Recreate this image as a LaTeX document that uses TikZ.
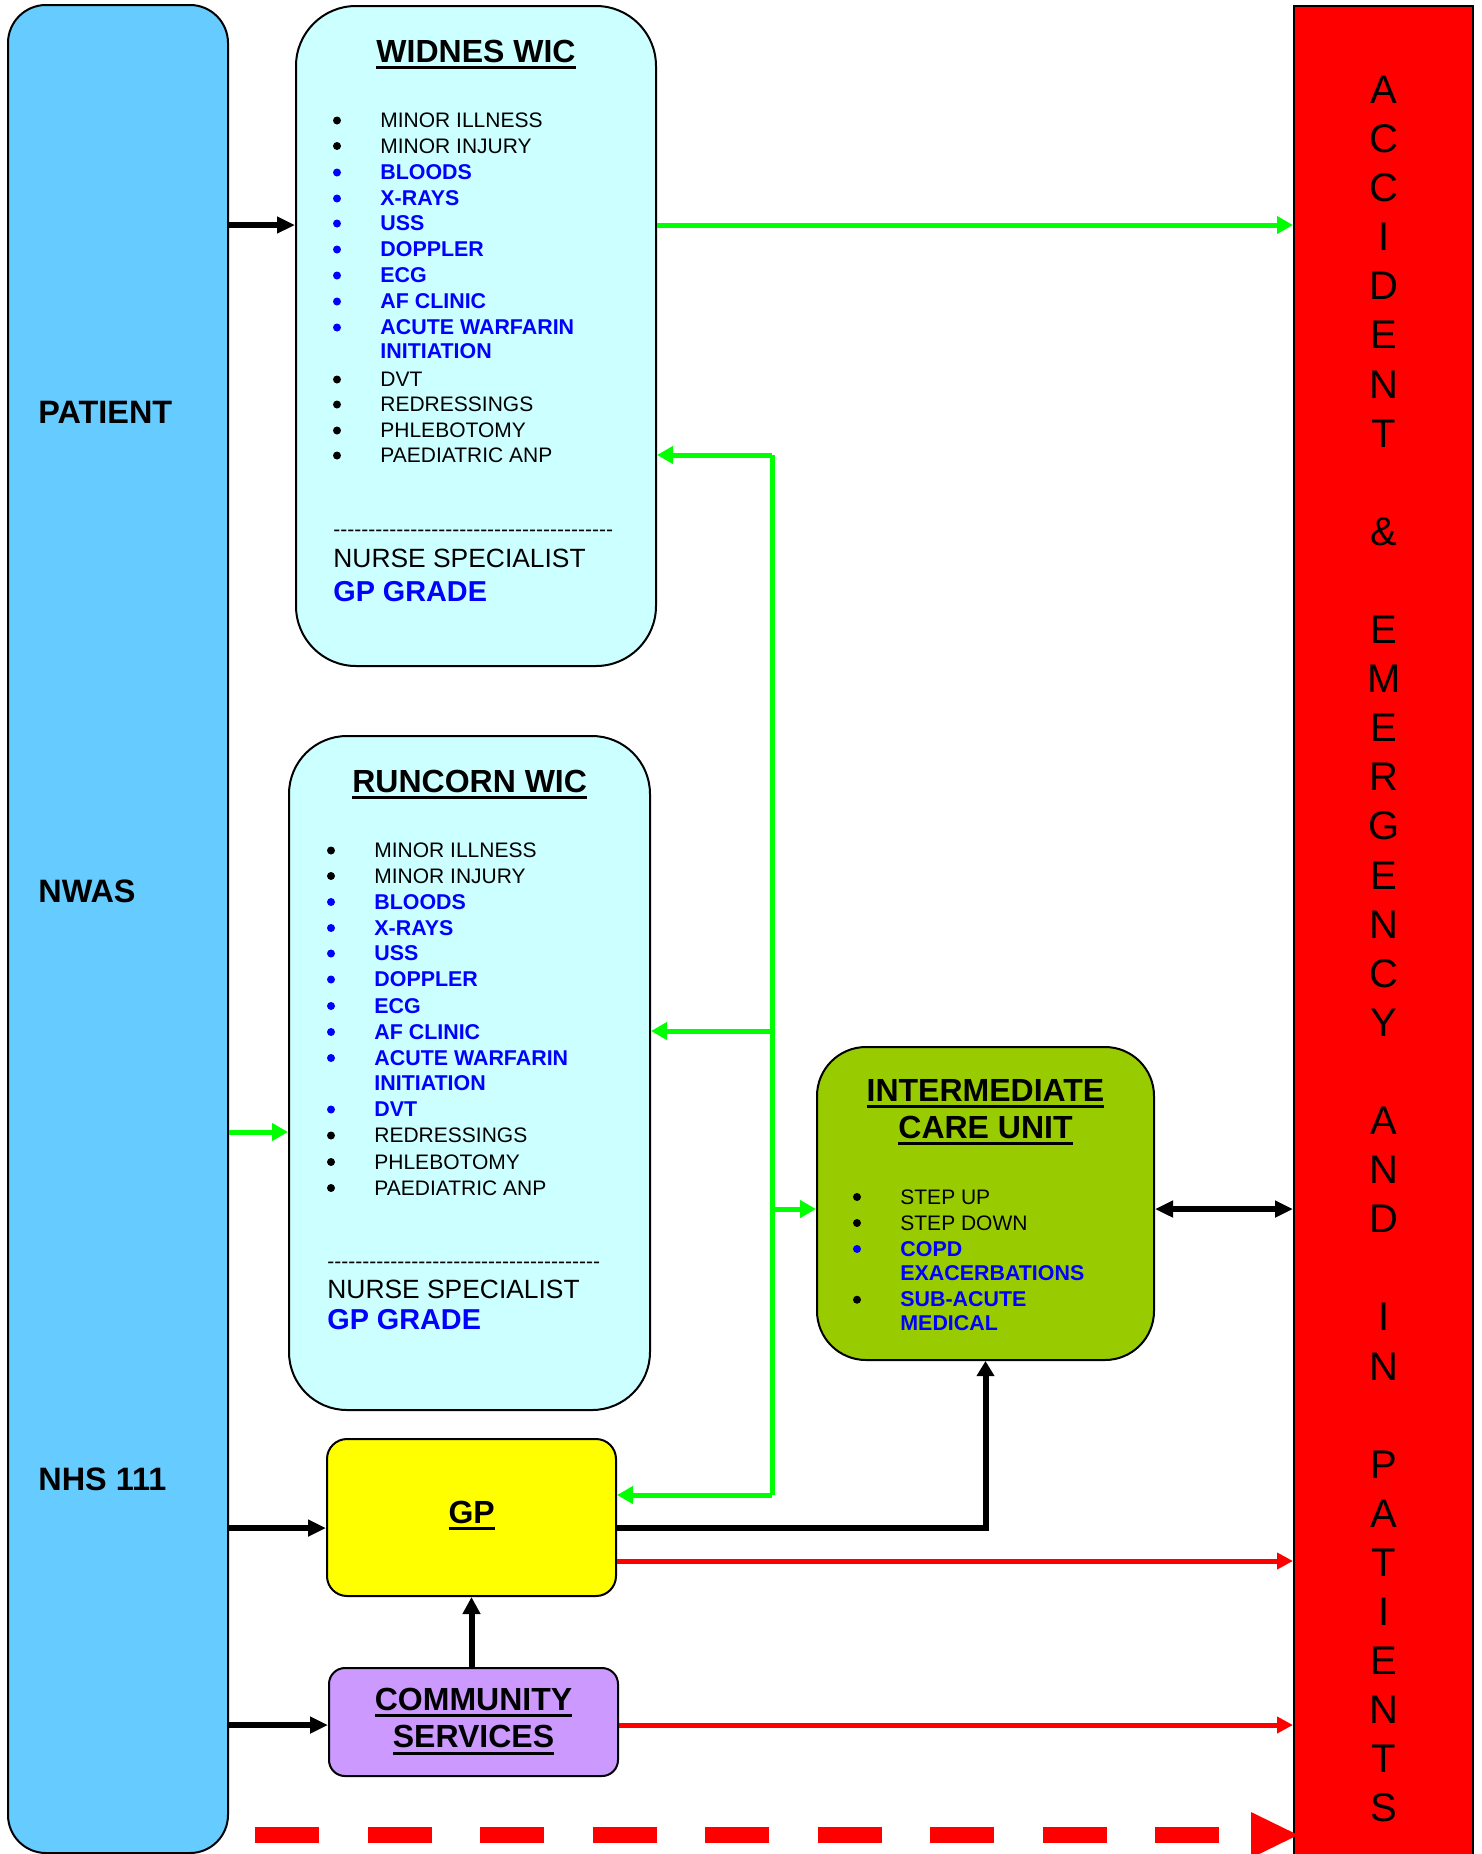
\documentclass[tikz,border=0pt]{standalone}
\usepackage{fontspec}
\setmainfont{Liberation Sans}
\usetikzlibrary{arrows.meta}

\definecolor{accessblue}{HTML}{66CCFF}
\definecolor{wicfill}{HTML}{CCFFFF}
\definecolor{icugreen}{HTML}{99CC00}
\definecolor{gpyellow}{HTML}{FFFF00}
\definecolor{commlilac}{HTML}{CC99FF}
\definecolor{aered}{HTML}{FF0000}
\definecolor{linkgreen}{HTML}{00FF00}
\definecolor{textblue}{HTML}{0000FF}

\newsavebox\ulsave
\newcommand\ulbox[1]{\sbox\ulsave{#1}\rlap{\rule[-3.3pt]{\wd\ulsave}{1.5pt}}\usebox\ulsave}
\newcount\hycount
\newcommand\hyrow[1]{\hycount=0 \loop\mbox{-}\advance\hycount by 1 \ifnum\hycount<#1\repeat}

\tikzset{
  column/.style={draw=black, line width=1pt, inner sep=0pt},
  wicbox/.style={draw=black, line width=1pt, fill=wicfill, rounded corners=30pt, inner sep=0pt},
  title/.style={inner sep=0pt, align=center, font=\fontsize{16}{18.6}\selectfont\bfseries},
  barlabel/.style={anchor=base west, inner sep=0pt, font=\fontsize{16.2}{18}\selectfont\bfseries},
  listtext/.style={anchor=base west, inner sep=0pt, font=\fontsize{10.5}{12}\selectfont},
  bluetext/.style={listtext, text=textblue, font=\fontsize{10.7}{12}\selectfont\bfseries},
  nurse/.style={anchor=base west, inner sep=0pt, font=\fontsize{13.2}{15}\selectfont},
  grade/.style={anchor=base west, inner sep=0pt, text=textblue, font=\fontsize{14.4}{16}\selectfont\bfseries},
  aeletters/.style={anchor=north, inner sep=0pt, align=center, font=\fontsize{20}{24.55}\selectfont},
  blackarrow/.style={draw=black, line width=3pt, -{Triangle[length=9pt,width=8pt]}},
  greenarrow/.style={draw=linkgreen, line width=2.5pt, -{Triangle[length=8pt,width=8.5pt]}},
  greenline/.style={draw=linkgreen, line width=2.5pt},
  redarrow/.style={draw=aered, line width=2.5pt, -{Triangle[length=8pt,width=8pt]}},
  edpath/.style={draw=aered, line width=8pt, dash pattern=on 32pt off 24.25pt,
    -{Triangle[length=23.5pt,width=23pt,line width=0pt]}, shorten >=-2.5pt}
}

\begin{document}
\begin{tikzpicture}[x=0.5pt,y=-0.5pt]
\useasboundingbox (0,0) rectangle (1482,1854);

% side columns
\node[column, fill=accessblue, rounded corners=19pt, minimum width=110pt, minimum height=924pt] (access) at (118,929) {};
\node[column, fill=aered, minimum width=89.5pt, minimum height=930pt] (aande) at (1383.5,936) {};

\node[barlabel] (patient) at (38,423) {PATIENT};
\node[barlabel] (nwas) at (38,902) {NWAS};
\node[barlabel] (nhs) at (38,1490) {NHS 111};

\node[aeletters] (aande-text) at (1384,75.5) {A\\C\\C\\I\\D\\E\\N\\T\\\mbox{}\\\&\\\mbox{}\\E\\M\\E\\R\\G\\E\\N\\C\\Y\\\mbox{}\\A\\N\\D\\\mbox{}\\I\\N\\\mbox{}\\P\\A\\T\\I\\E\\N\\T\\S};

% widnes
\node[wicbox, minimum width=180pt, minimum height=330pt] (widnes) at (476,336) {};
\node[title, anchor=base] (w-title) at (476,62.5) {\ulbox{WIDNES WIC}};
\node[listtext] (w-1) at (380,127.5) {MINOR ILLNESS};
\node[listtext] (w-2) at (380,153) {MINOR INJURY};
\node[bluetext] (w-3) at (380,179.5) {BLOODS};
\node[bluetext] (w-4) at (380,205.5) {X-RAYS};
\node[bluetext] (w-5) at (380,230.5) {USS};
\node[bluetext] (w-6) at (380,256.5) {DOPPLER};
\node[bluetext] (w-7) at (380,282.5) {ECG};
\node[bluetext] (w-8) at (380,308.5) {AF CLINIC};
\node[bluetext] (w-9) at (380,334.5) {ACUTE WARFARIN};
\node[bluetext] (w-10) at (380,358.5) {INITIATION};
\node[listtext] (w-11) at (380,386.5) {DVT};
\node[listtext] (w-12) at (380,411.5) {REDRESSINGS};
\node[listtext] (w-13) at (380,437.5) {PHLEBOTOMY};
\node[listtext] (w-14) at (380,462.5) {PAEDIATRIC ANP};
\foreach \y in {120.5,146,379.5,404.5,430.5,455.5}
  \fill (337,\y) circle[radius=2pt];
\foreach \y in {172.5,198.5,223.5,249.5,275.5,301.5,327.5}
  \fill[textblue] (337,\y) circle[radius=2pt];
\node[listtext] (w-rule) at (333,536) {\hyrow{40}};
\node[nurse] (w-nurse) at (333,567.5) {NURSE SPECIALIST};
\node[grade] (w-grade) at (333,601) {GP GRADE};

% runcorn
\node[wicbox, rounded corners=29pt, minimum width=180.5pt, minimum height=337pt] (runcorn) at (469.5,1073) {};
\node[title, anchor=base] (r-title) at (469.7,792) {\ulbox{RUNCORN WIC}};
\node[listtext] (r-1) at (374,857.5) {MINOR ILLNESS};
\node[listtext] (r-2) at (374,883) {MINOR INJURY};
\node[bluetext] (r-3) at (374,909) {BLOODS};
\node[bluetext] (r-4) at (374,935) {X-RAYS};
\node[bluetext] (r-5) at (374,960.5) {USS};
\node[bluetext] (r-6) at (374,986.5) {DOPPLER};
\node[bluetext] (r-7) at (374,1013) {ECG};
\node[bluetext] (r-8) at (374,1039) {AF CLINIC};
\node[bluetext] (r-9) at (374,1065) {ACUTE WARFARIN};
\node[bluetext] (r-10) at (374,1090.5) {INITIATION};
\node[bluetext] (r-11) at (374,1116.5) {DVT};
\node[listtext] (r-12) at (374,1142.5) {REDRESSINGS};
\node[listtext] (r-13) at (374,1169) {PHLEBOTOMY};
\node[listtext] (r-14) at (374,1195) {PAEDIATRIC ANP};
\foreach \y in {850.5,876,1135.5,1162,1188}
  \fill (331,\y) circle[radius=2pt];
\foreach \y in {902,928,953.5,979.5,1006,1032,1058,1109.5}
  \fill[textblue] (331,\y) circle[radius=2pt];
\node[listtext] (r-rule) at (327,1268) {\hyrow{39}};
\node[nurse] (r-nurse) at (327,1298.5) {NURSE SPECIALIST};
\node[grade] (r-grade) at (327,1329) {GP GRADE};

% intermediate care
\node[column, fill=icugreen, rounded corners=24.5pt, minimum width=168.5pt, minimum height=156.5pt] (icu) at (985.5,1203.5) {};
\node[title, anchor=north] (icu-title) at (985.5,1079) {\ulbox{INTERMEDIATE}\\\ulbox{CARE UNIT}};
\node[listtext] (icu-1) at (900,1204) {STEP UP};
\node[listtext] (icu-2) at (900,1230) {STEP DOWN};
\node[bluetext] (icu-3) at (900,1256) {COPD};
\node[bluetext] (icu-4) at (900,1280.7) {EXACERBATIONS};
\node[bluetext] (icu-5) at (900,1306.7) {SUB-ACUTE};
\node[bluetext] (icu-6) at (900,1330.7) {MEDICAL};
\foreach \y in {1197,1223,1299.7}
  \fill (857,\y) circle[radius=2pt];
\fill[textblue] (857,1249) circle[radius=2pt];

% gp and community
\node[column, fill=gpyellow, rounded corners=10pt, minimum width=144.5pt, minimum height=78.5pt] (gp) at (471.5,1517.5) {};
\node[title, anchor=base] (gp-title) at (471.7,1523) {\ulbox{GP}};
\node[column, fill=commlilac, rounded corners=8pt, minimum width=144.5pt, minimum height=54pt] (community) at (473.5,1722) {};
\node[title, anchor=north] (community-title) at (473.5,1688) {\ulbox{COMMUNITY}\\\ulbox{SERVICES}};

% rows and bus
\coordinate (rowW) at (0,225);
\coordinate (rowRun) at (0,1132);
\coordinate (rowICU) at (0,1209);
\coordinate (rowGPin) at (0,1528);
\coordinate (rowGPae) at (0,1561);
\coordinate (rowCS) at (0,1725);
\coordinate (busW) at (772,455);
\coordinate (busR) at (772,1031);
\coordinate (busICU) at (772,1209);
\coordinate (busGP) at (772,1495);
\coordinate (dashStart) at (255,1835);

\draw[blackarrow] (access.east |- rowW) -- (widnes.west |- rowW);
\draw[greenarrow] (widnes.east |- rowW) -- (aande.west |- rowW);
\draw[greenarrow] (access.east |- rowRun) -- (runcorn.west |- rowRun);
\draw[greenline] (busW) -- (busGP);
\draw[greenarrow] (busW) -- (widnes.east |- busW);
\draw[greenarrow] (busR) -- (runcorn.east |- busR);
\draw[greenarrow] (busICU) -- (icu.west |- busICU);
\draw[greenarrow] (busGP) -- (gp.east |- busGP);
\draw[blackarrow, {Triangle[length=9pt,width=8pt]}-{Triangle[length=9pt,width=8pt]}] (icu.east |- rowICU) -- (aande.west |- rowICU);
\draw[blackarrow] (access.east |- rowGPin) -- (gp.west |- rowGPin);
\draw[blackarrow, -{Triangle[length=7.5pt,width=8.5pt]}] (gp.east |- rowGPin) -| (icu.south);
\draw[redarrow] (gp.east |- rowGPae) -- (aande.west |- rowGPae);
\draw[blackarrow, -{Triangle[length=8.5pt,width=8.5pt]}] (gp.south |- community.north) -- (gp.south);
\draw[blackarrow] (access.east |- rowCS) -- (community.west |- rowCS);
\draw[redarrow] (community.east |- rowCS) -- (aande.west |- rowCS);
\draw[edpath] (dashStart) -- (aande.west |- dashStart);
\end{tikzpicture}
\end{document}
